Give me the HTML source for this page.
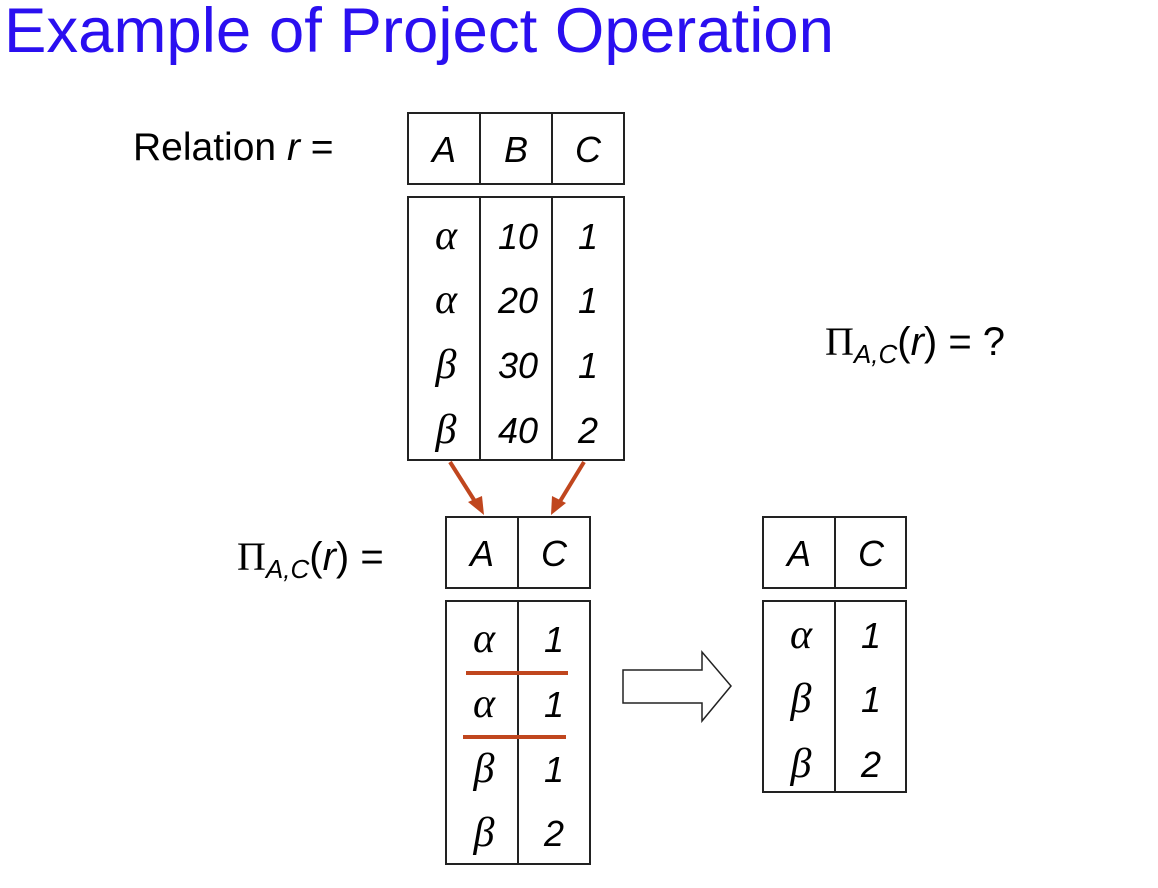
<!DOCTYPE html>
<html><head><meta charset="utf-8"><style>
html,body{margin:0;padding:0;background:#fff;}
svg{display:block;}
.s{font-family:"Liberation Sans",sans-serif;}
.g{font-family:"Liberation Serif",serif;font-style:italic;}
</style></head><body>
<svg width="1158" height="888" viewBox="0 0 1158 888" xmlns="http://www.w3.org/2000/svg">
<text x="4" y="52" class="s" font-size="63" fill="#2a0ff0" textLength="830" lengthAdjust="spacingAndGlyphs">Example of Project Operation</text>
<text x="133" y="160" class="s" font-size="39" fill="#000">Relation <tspan font-style="italic">r</tspan> =</text>

<g fill="none" stroke="#222" stroke-width="2">
<rect x="408" y="113" width="216" height="71"/><line x1="480" y1="113" x2="480" y2="184"/><line x1="552" y1="113" x2="552" y2="184"/>
<rect x="408" y="197" width="216" height="263"/><line x1="480" y1="197" x2="480" y2="460"/><line x1="552" y1="197" x2="552" y2="460"/>
<rect x="446" y="517" width="144" height="71"/><line x1="518" y1="517" x2="518" y2="588"/>
<rect x="446" y="601" width="144" height="263"/><line x1="518" y1="601" x2="518" y2="864"/>
<rect x="763" y="517" width="143" height="71"/><line x1="835" y1="517" x2="835" y2="588"/>
<rect x="763" y="601" width="143" height="191"/><line x1="835" y1="601" x2="835" y2="792"/>
<path d="M623 670 H702 V652 L731 686 L702 721 V703 H623 Z" stroke-width="1.5"/>
</g>

<g class="s" font-size="36" font-style="italic" text-anchor="middle" fill="#000">
<text x="444" y="162">A</text><text x="516" y="162">B</text><text x="588" y="162">C</text>
<text x="518" y="249">10</text><text x="588" y="249">1</text>
<text x="518" y="313">20</text><text x="588" y="313">1</text>
<text x="518" y="378">30</text><text x="588" y="378">1</text>
<text x="518" y="443">40</text><text x="588" y="443">2</text>
<text x="482" y="566">A</text><text x="554" y="566">C</text>
<text x="554" y="652">1</text><text x="554" y="717">1</text><text x="554" y="782">1</text><text x="554" y="846">2</text>
<text x="799" y="566">A</text><text x="871" y="566">C</text>
<text x="871" y="648">1</text><text x="871" y="712">1</text><text x="871" y="777">2</text>
</g>
<g class="g" font-size="42" text-anchor="middle" fill="#000">
<text x="446" y="249">α</text><text x="446" y="313">α</text><text x="446" y="378">β</text><text x="446" y="443">β</text>
<text x="484" y="652">α</text><text x="484" y="717">α</text><text x="484" y="782">β</text><text x="484" y="846">β</text>
<text x="801" y="648">α</text><text x="801" y="712">β</text><text x="801" y="777">β</text>
</g>

<g stroke="#c0461e" stroke-width="4" fill="none">
<line x1="450" y1="462" x2="476" y2="503"/><line x1="584" y1="462" x2="559" y2="503"/>
<line x1="466" y1="673" x2="568" y2="673"/><line x1="463" y1="737" x2="566" y2="737"/>
</g>
<g fill="#c0461e">
<polygon points="484,515 468,502 482,496"/>
<polygon points="551,515 552,496 566,503"/>
</g>

<text x="237" y="570" fill="#000" font-size="40"><tspan font-family="Liberation Serif,serif">Π</tspan><tspan class="s" font-style="italic" font-size="26" dy="8">A,C</tspan><tspan class="s" dy="-8">(<tspan font-style="italic">r</tspan>) =</tspan></text>
<text x="825" y="355" fill="#000" font-size="40"><tspan font-family="Liberation Serif,serif">Π</tspan><tspan class="s" font-style="italic" font-size="26" dy="8">A,C</tspan><tspan class="s" dy="-8">(<tspan font-style="italic">r</tspan>) = ?</tspan></text>
</svg>
</body></html>
